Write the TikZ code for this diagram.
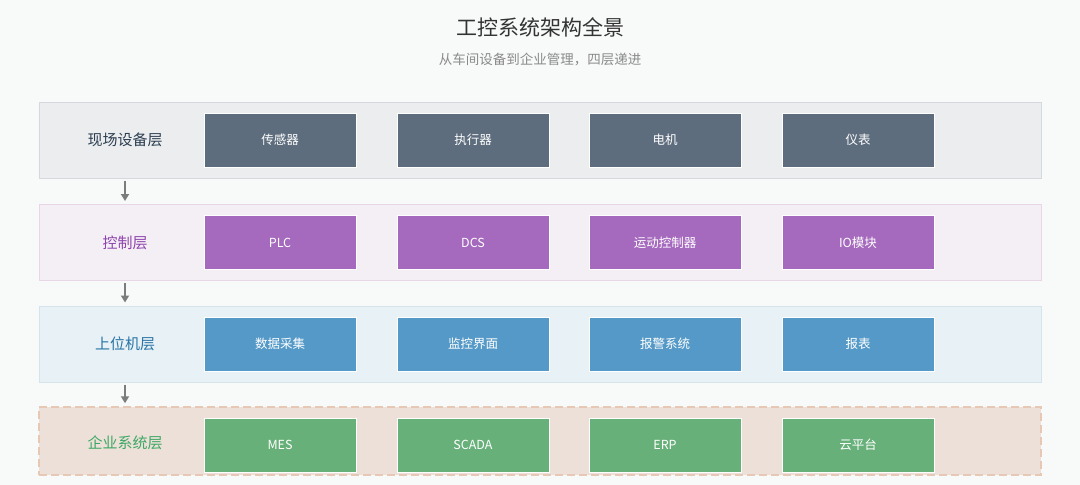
\documentclass[tikz,border=0pt]{standalone}
\usepackage{fontspec}
\newfontfamily\cjk{Noto Sans CJK SC}
\usetikzlibrary{arrows.meta}
\definecolor{bg}{HTML}{F8F9F9}
\definecolor{titlec}{HTML}{333333}
\definecolor{subc}{HTML}{8A8A8A}
\definecolor{arrc}{HTML}{7B7D7D}
% layer colours
\definecolor{fieldbg}{HTML}{EBEDEF}
\definecolor{fieldln}{HTML}{D5D8DC}
\definecolor{fieldbox}{HTML}{5D6D7E}
\definecolor{fieldtx}{HTML}{2C3E50}
\definecolor{ctrlbg}{HTML}{F4EEF5}
\definecolor{ctrlln}{HTML}{E8D6E6}
\definecolor{ctrlbox}{HTML}{A569BD}
\definecolor{ctrltx}{HTML}{8E44AD}
\definecolor{hostbg}{HTML}{E8F1F5}
\definecolor{hostln}{HTML}{D4E3EC}
\definecolor{hostbox}{HTML}{5499C7}
\definecolor{hosttx}{HTML}{2874A6}
\definecolor{entbg}{HTML}{EDE0D9}
\definecolor{entln}{HTML}{E6C8B4}
\definecolor{entbox}{HTML}{67B07A}
\definecolor{enttx}{HTML}{3DA863}

\begin{document}
\begin{tikzpicture}[x=1pt,y=-1pt]
    \tikzset{%
      layer/.style={rectangle, inner sep=0pt, line width=1pt,
        minimum width=1002pt, minimum height=76pt},
      part/.style={rectangle, draw=white, line width=0.8pt, inner sep=0pt,
        minimum width=152pt, minimum height=54pt, text=white,
        font=\cjk\fontsize{12.5pt}{14pt}\selectfont},
      tag/.style={font=\cjk\fontsize{15pt}{18pt}\selectfont},
      arr/.style={-{Triangle[width=8pt,length=7pt]}, arrc, line width=2pt,
        shorten <=2pt, shorten >=3pt},
    }
    \fill [bg] (0,0) rectangle (1080,485);
    \useasboundingbox (0,0) rectangle (1080,485);

    % heading
    \node [titlec, font=\cjk\fontsize{21pt}{24pt}\selectfont] (title) at (540,27) {工控系统架构全景};
    \node [subc, font=\cjk\fontsize{13.5pt}{16pt}\selectfont] (subtitle) at (540,59) {从车间设备到企业管理，四层递进};

    % field layer
    \node [layer, fill=fieldbg, draw=fieldln] (L1) at (540,140) {};
    \node [tag, fieldtx] (T1) at (125,140) {现场设备层};
    \node [part, fill=fieldbox] (A1) at (280,140) {传感器};
    \node [part, fill=fieldbox] (A2) at (473,140) {执行器};
    \node [part, fill=fieldbox] (A3) at (665,140) {电机};
    \node [part, fill=fieldbox] (A4) at (858,140) {仪表};

    % control layer
    \node [layer, fill=ctrlbg, draw=ctrlln] (L2) at (540,242.5) {};
    \node [tag, ctrltx] (T2) at (125,242.5) {控制层};
    \node [part, fill=ctrlbox] (B1) at (280,242.5) {PLC};
    \node [part, fill=ctrlbox] (B2) at (473,242.5) {DCS};
    \node [part, fill=ctrlbox] (B3) at (665,242.5) {运动控制器};
    \node [part, fill=ctrlbox] (B4) at (858,242.5) {IO模块};

    % host layer
    \node [layer, fill=hostbg, draw=hostln] (L3) at (540,344) {};
    \node [tag, hosttx] (T3) at (125,344) {上位机层};
    \node [part, fill=hostbox] (C1) at (280,344) {数据采集};
    \node [part, fill=hostbox] (C2) at (473,344) {监控界面};
    \node [part, fill=hostbox] (C3) at (665,344) {报警系统};
    \node [part, fill=hostbox] (C4) at (858,344) {报表};

    % enterprise layer
    \node [layer, minimum height=68pt, fill=entbg, draw=entln, line width=1.5pt,
      dash pattern=on 8pt off 4pt] (L4) at (540,441) {};
    \node [tag, enttx] (T4) at (125,443) {企业系统层};
    \node [part, fill=entbox] (D1) at (280,445) {MES};
    \node [part, fill=entbox] (D2) at (473,445) {SCADA};
    \node [part, fill=entbox] (D3) at (665,445) {ERP};
    \node [part, fill=entbox] (D4) at (858,445) {云平台};

    % flow between layers
    \draw [arr] (T1 |- L1.south) -- (T1 |- L2.north);
    \draw [arr] (T2 |- L2.south) -- (T2 |- L3.north);
    \draw [arr] (T3 |- L3.south) -- (T3 |- L4.north);
\end{tikzpicture}
\end{document}
